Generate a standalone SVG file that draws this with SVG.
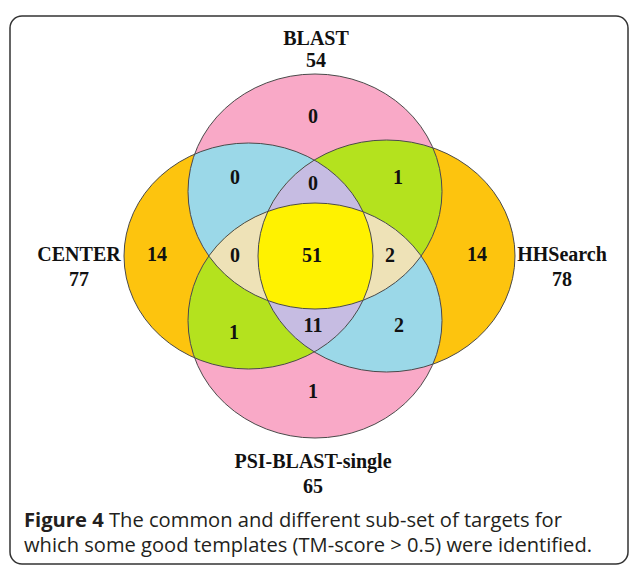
<svg xmlns="http://www.w3.org/2000/svg" width="630" height="567" viewBox="0 0 630 567">
<style>
.lbl{font-family:"Liberation Serif","Times New Roman",serif;font-weight:bold;font-size:20px;fill:#111;text-anchor:middle}
.num{font-family:"Liberation Serif","Times New Roman",serif;font-weight:bold;font-size:20px;fill:#111;text-anchor:middle}
.cap{font-family:"Open Sans","Noto Sans",sans-serif;font-size:19.5px;fill:#231f20}
.edge{fill:none;stroke:#4a4a4a;stroke-width:1}
</style>
<defs>
<ellipse id="eB" cx="315" cy="191.5" rx="127" ry="117.5"/>
<ellipse id="eP" cx="315" cy="320.5" rx="127" ry="117.5"/>
<ellipse id="eC" cx="248.5" cy="256" rx="124.5" ry="113"/>
<ellipse id="eH" cx="386.5" cy="256" rx="128.5" ry="116"/>
<clipPath id="cB"><use href="#eB"/></clipPath>
<clipPath id="cP"><use href="#eP"/></clipPath>
<clipPath id="cC"><use href="#eC"/></clipPath>
<clipPath id="cH"><use href="#eH"/></clipPath>
</defs>
<rect x="10" y="16" width="618" height="548" rx="12" fill="#fff" stroke="#333" stroke-width="1.5"/>
<g id="regions">
<use href="#eC" fill="#fdc40e"/>
<use href="#eH" fill="#fdc40e"/>
<use href="#eB" fill="#f9a9c7"/>
<use href="#eP" fill="#f9a9c7"/>
<g clip-path="url(#cB)"><use href="#eC" fill="#9bd8e8"/><use href="#eH" fill="#b4e21e"/></g>
<g clip-path="url(#cP)"><use href="#eC" fill="#b4e21e"/><use href="#eH" fill="#9bd8e8"/></g>
<g clip-path="url(#cC)"><g clip-path="url(#cH)"><use href="#eB" fill="#c6bce2"/><use href="#eP" fill="#c6bce2"/></g></g>
<g clip-path="url(#cB)"><g clip-path="url(#cP)"><use href="#eC" fill="#eee2b7"/><use href="#eH" fill="#eee2b7"/></g></g>
<g clip-path="url(#cB)"><g clip-path="url(#cP)"><g clip-path="url(#cC)"><use href="#eH" fill="#fff200"/></g></g></g>
</g>
<g id="set-blast"><use href="#eB" class="edge"/><text class="lbl" x="316" y="45">BLAST</text><text class="lbl" x="316" y="67">54</text></g>
<g id="set-psiblast"><use href="#eP" class="edge"/><text class="lbl" x="313" y="468">PSI-BLAST-single</text><text class="lbl" x="313" y="493">65</text></g>
<g id="set-center"><use href="#eC" class="edge"/><text class="lbl" x="79" y="261">CENTER</text><text class="lbl" x="79" y="286">77</text></g>
<g id="set-hhsearch"><use href="#eH" class="edge"/><text class="lbl" x="562" y="261">HHSearch</text><text class="lbl" x="562" y="286">78</text></g>
<g id="counts">
<text class="num" x="313" y="123">0</text>
<text class="num" x="235" y="184">0</text>
<text class="num" x="313" y="190">0</text>
<text class="num" x="398" y="184">1</text>
<text class="num" x="157" y="261">14</text>
<text class="num" x="235" y="262">0</text>
<text class="num" x="312" y="262">51</text>
<text class="num" x="390" y="262">2</text>
<text class="num" x="477" y="261">14</text>
<text class="num" x="234" y="339">1</text>
<text class="num" x="313" y="332">11</text>
<text class="num" x="399" y="332">2</text>
<text class="num" x="313" y="398">1</text>
</g>
<g id="caption">
<text class="cap" x="24" y="527" textLength="538" lengthAdjust="spacingAndGlyphs"><tspan font-weight="bold">Figure 4</tspan> The common and different sub-set of targets for</text>
<text class="cap" x="24" y="552" textLength="568" lengthAdjust="spacingAndGlyphs">which some good templates (TM-score &gt; 0.5) were identified.</text>
</g>
</svg>
